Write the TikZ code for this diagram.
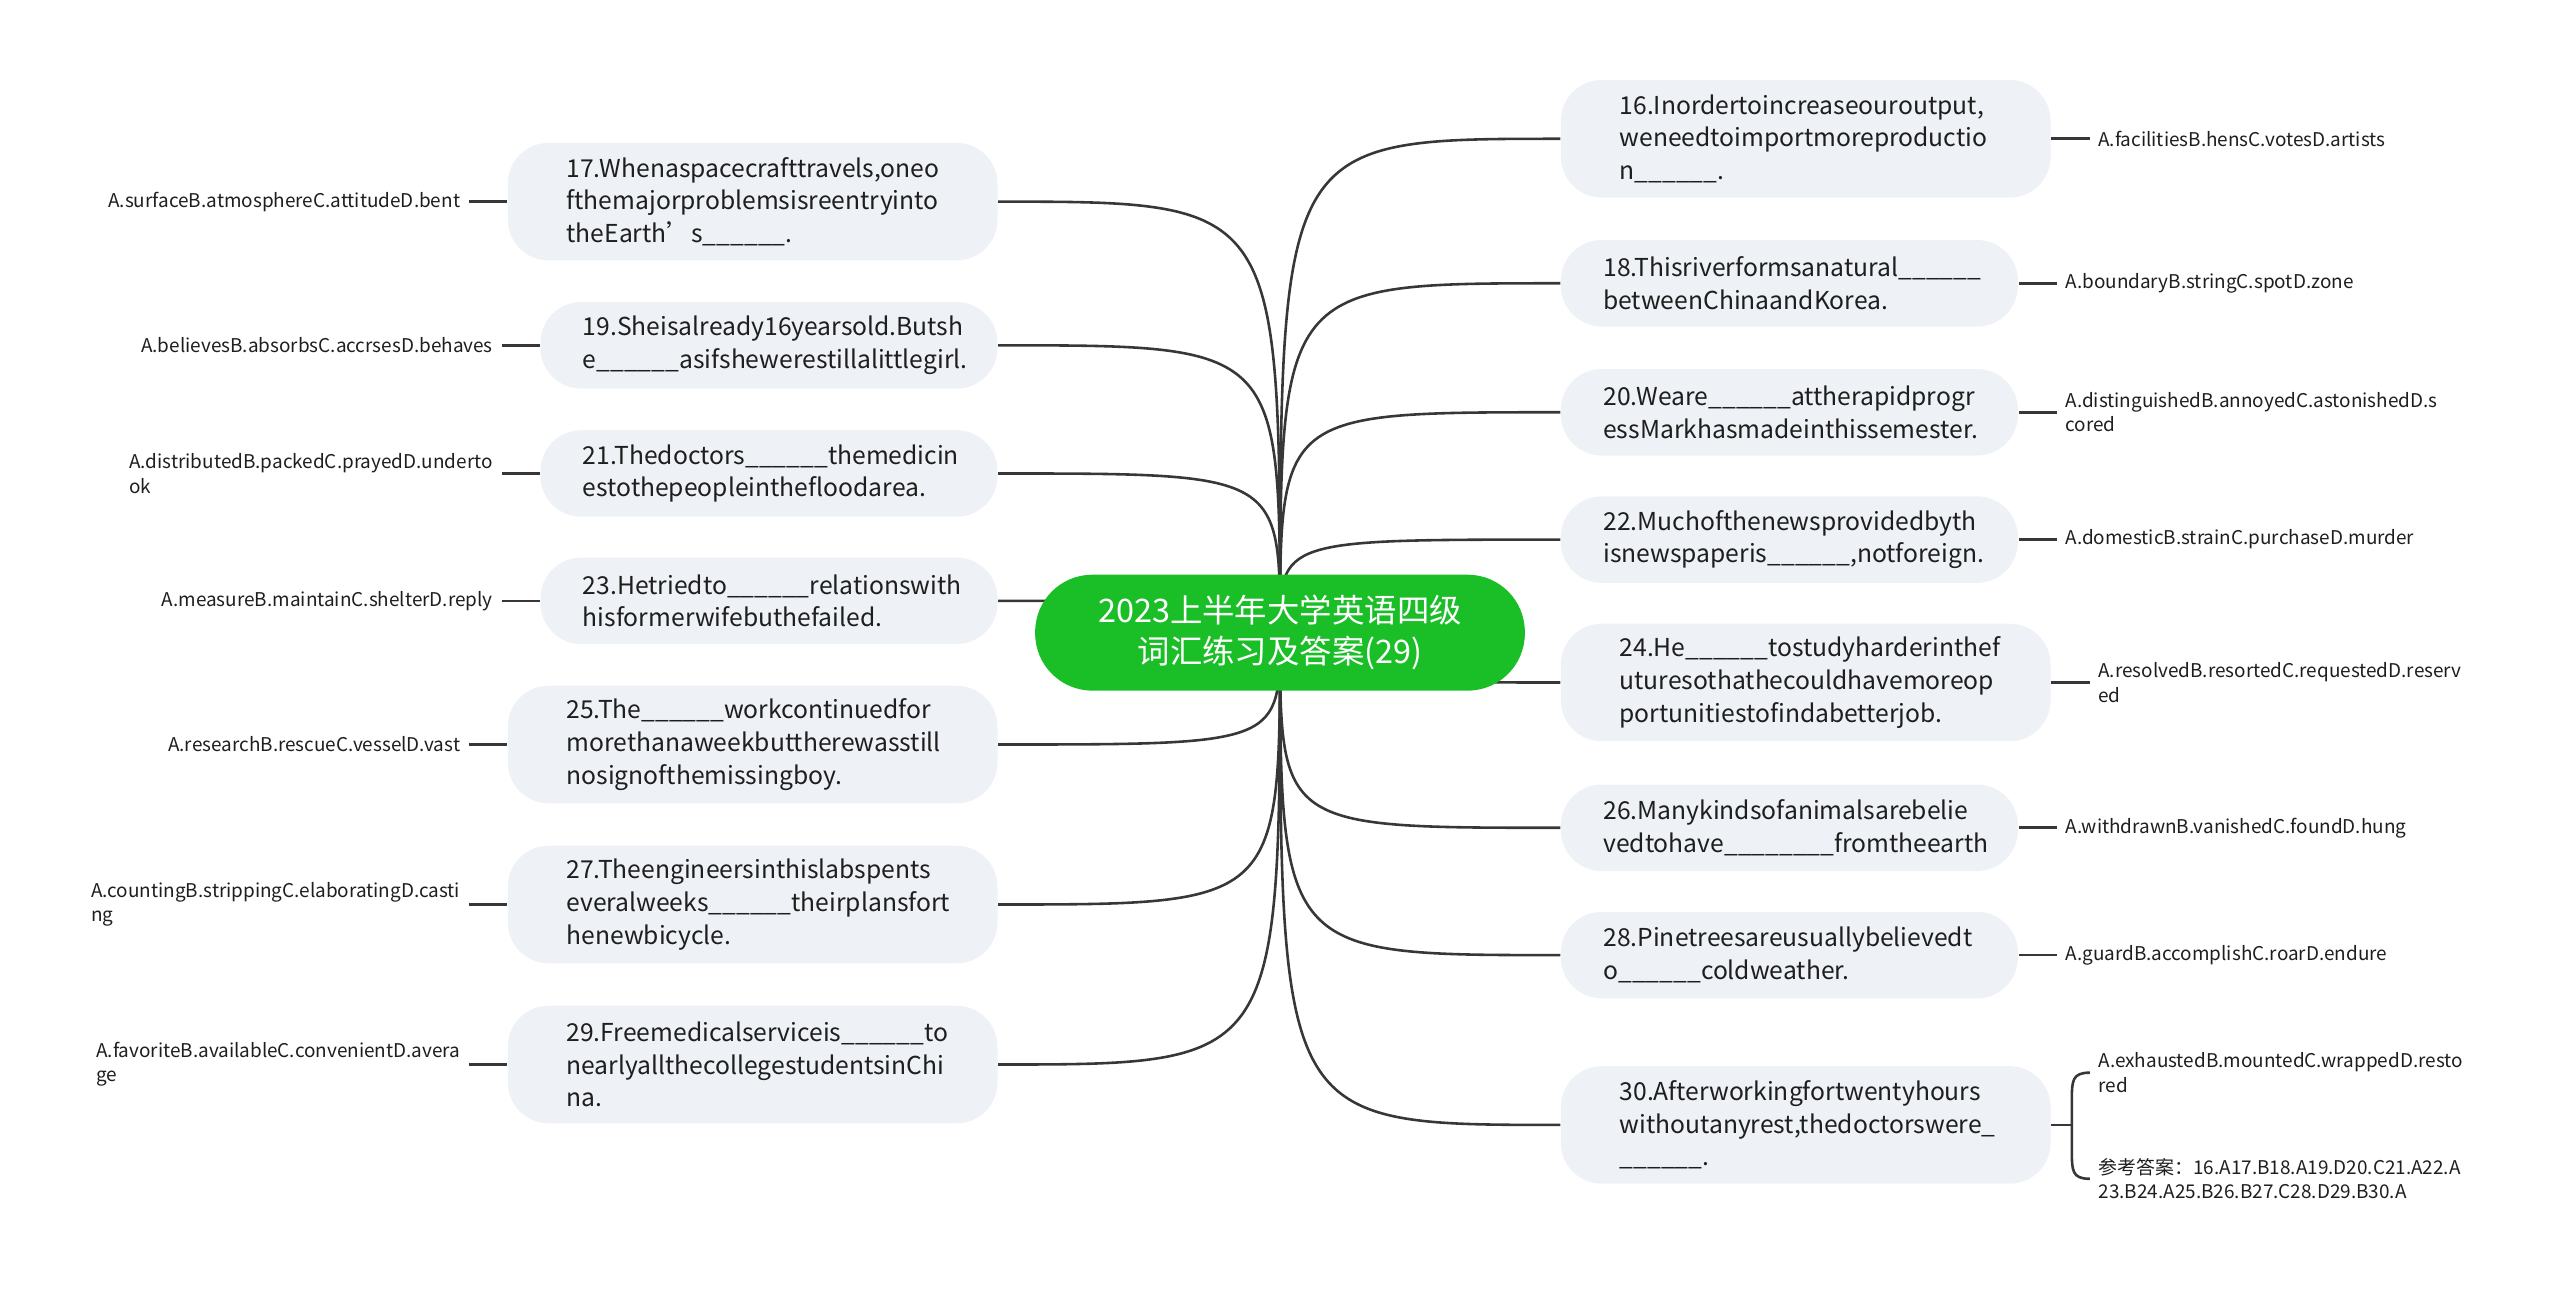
\documentclass[tikz,border=0pt]{standalone}
\usepackage{fontspec}
\setmainfont{Noto Sans CJK SC}
\usepackage{xcolor}
\usepackage{tikz}
\usetikzlibrary{positioning,backgrounds}
\definecolor{rootgreen}{RGB}{26,190,38}
\definecolor{boxgrey}{RGB}{238,241,245}
\definecolor{linegrey}{RGB}{55,55,55}
\definecolor{textgrey}{RGB}{30,30,30}
\hyphenpenalty=10000
\newcommand{\bl}{\_\_\_\_\_\_}

\begin{document}
\begin{tikzpicture}[x=0.02cm, y=-0.02cm,
	link/.style={draw=linegrey, line width=0.9pt},
	qlong/.style={fill=boxgrey, rounded corners=0.5cm, text width=4.56cm, align=left, inner xsep=0.72cm, inner ysep=0pt, minimum height=1.44cm, text=textgrey, font=\fontsize{8.6}{11.4}\selectfont},
	qshort/.style={qlong, inner xsep=0.52cm, minimum height=1.06cm},
	ans/.style={align=left, inner sep=0.1cm, text=textgrey, font=\fontsize{6.6}{8.5}\selectfont},
	node distance=0.47cm]
	\useasboundingbox (0,0) rectangle (1568,792);
	% root
	\node (root) at (784,387.5) [fill=rootgreen, rounded corners=0.7cm, minimum width=6cm, minimum height=1.42cm, text=white, align=center, font=\fontsize{11.3}{14.2}\selectfont] {2023上半年大学英语四级\\词汇练习及答案(29)};
	
	% left questions
	\node (q17) at (461,123.5) [qlong] {17.Whenaspacecrafttravels,oneo\\fthemajorproblemsisreentryinto\\theEarth’s\bl.};
	\node (q19) at (471,211.5) [qshort] {19.Sheisalready16yearsold.Butsh\\e\bl asifshewerestillalittlegirl.};
	\node (q21) at (471,290) [qshort] {21.Thedoctors\bl themedicin\\estothepeopleinthefloodarea.};
	\node (q23) at (471,368) [qshort] {23.Hetriedto\bl relationswith\\hisformerwifebuthefailed.};
	\node (q25) at (461,456) [qlong] {25.The\bl workcontinuedfor\\morethanaweekbuttherewasstill\\nosignofthemissingboy.};
	\node (q27) at (461,554) [qlong] {27.Theengineersinthislabspents\\everalweeks\bl theirplansfort\\henewbicycle.};
	\node (q29) at (461,652) [qlong] {29.Freemedicalserviceis\bl to\\nearlyallthecollegestudentsinChi\\na.};
	
	% right questions
	\node (q16) at (1106,85) [qlong] {16.Inordertoincreaseouroutput,\\weneedtoimportmoreproductio\\n\bl.};
	\node (q18) at (1096,173.5) [qshort] {18.Thisriverformsanatural\bl\\betweenChinaandKorea.};
	\node (q20) at (1096,252.5) [qshort] {20.Weare\bl attherapidprogr\\essMarkhasmadeinthissemester.};
	\node (q22) at (1096,330.5) [qshort] {22.Muchofthenewsprovidedbyth\\isnewspaperis\bl,notforeign.};
	\node (q24) at (1106,418) [qlong] {24.He\bl tostudyharderinthef\\uturesothathecouldhavemoreop\\portunitiestofindabetterjob.};
	\node (q26) at (1096,507) [qshort] {26.Manykindsofanimalsarebelie\\vedtohave\_\_\bl fromtheearth};
	\node (q28) at (1096,585) [qshort] {28.Pinetreesareusuallybelievedt\\o\bl coldweather.};
	\node (q30) at (1106,689) [qlong] {30.Afterworkingfortwentyhours\\withoutanyrest,thedoctorswere\_\\\bl.};
	
	% options
	\node (a17) [ans, left=of q17] {A.surfaceB.atmosphereC.attitudeD.bent};
	\node (a19) [ans, left=of q19] {A.believesB.absorbsC.accrsesD.behaves};
	\node (a21) [ans, left=of q21] {A.distributedB.packedC.prayedD.underto\\ok};
	\node (a23) [ans, left=of q23] {A.measureB.maintainC.shelterD.reply};
	\node (a25) [ans, left=of q25] {A.researchB.rescueC.vesselD.vast};
	\node (a27) [ans, left=of q27] {A.countingB.strippingC.elaboratingD.casti\\ng};
	\node (a29) [ans, left=of q29] {A.favoriteB.availableC.convenientD.avera\\ge};
	\node (a16) [ans, right=of q16] {A.facilitiesB.hensC.votesD.artists};
	\node (a18) [ans, right=of q18] {A.boundaryB.stringC.spotD.zone};
	\node (a20) [ans, right=of q20] {A.distinguishedB.annoyedC.astonishedD.s\\cored};
	\node (a22) [ans, right=of q22] {A.domesticB.strainC.purchaseD.murder};
	\node (a24) [ans, right=of q24] {A.resolvedB.resortedC.requestedD.reserv\\ed};
	\node (a26) [ans, right=of q26] {A.withdrawnB.vanishedC.foundD.hung};
	\node (a28) [ans, right=of q28] {A.guardB.accomplishC.roarD.endure};
	\node (a30) at (1280,657) [ans, anchor=west] {A.exhaustedB.mountedC.wrappedD.resto\\red};
	\node (k30) at (1280,722) [ans, anchor=west] {参考答案：16.A17.B18.A19.D20.C21.A22.A\\23.B24.A25.B26.B27.C28.D29.B30.A};
	
	\begin{scope}[on background layer]
		\foreach \n in {17,19,...,29}
			\draw[link] (root.center) .. controls (root.center |- q\n.east) .. (q\n.east);
		\foreach \n in {16,18,...,30}
			\draw[link] (root.center) .. controls (root.center |- q\n.west) .. (q\n.west);
	\end{scope}
	\foreach \n in {17,19,...,29}
		\draw[link] (a\n) -- (q\n);
	\foreach \n in {16,18,...,28}
		\draw[link] (a\n) -- (q\n);
	
	% brace for 30
	\coordinate (b30) at ([xshift=-0.22cm]a30.west |- q30.east);
	\draw[link] (q30.east) -- (b30);
	\draw[link] (a30.west) .. controls ([xshift=-0.22cm]a30.west) and ([xshift=-0.22cm,yshift=-0.1cm]a30.west) .. ([xshift=-0.22cm,yshift=-0.35cm]a30.west) -- ([xshift=-0.22cm,yshift=0.35cm]k30.west) .. controls ([xshift=-0.22cm,yshift=0.1cm]k30.west) and ([xshift=-0.22cm]k30.west) .. (k30.west);
\end{tikzpicture}
\end{document}
